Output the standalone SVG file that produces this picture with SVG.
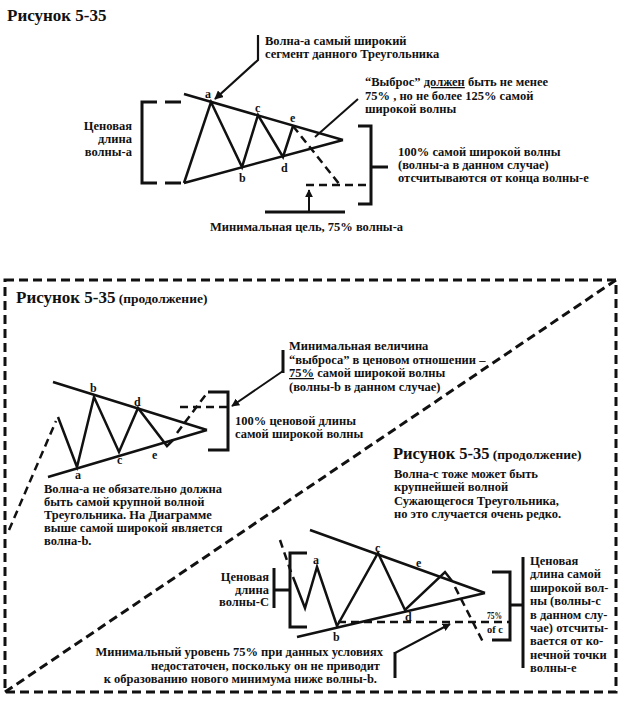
<svg xmlns="http://www.w3.org/2000/svg" width="625" height="704" viewBox="0 0 625 704">
<defs>
<marker id="ah" viewBox="0 0 10 10" refX="9" refY="5" markerWidth="4" markerHeight="4" orient="auto"><path d="M0,0 L10,5 L0,10 z" fill="#111"/></marker>
</defs>
<style>
text{font-family:"Liberation Serif","Times New Roman",serif;font-weight:bold;font-size:12.5px;fill:#111}
.t{font-size:17px}
.st{font-size:13.5px}
.t3{font-size:16.5px}
.lbl{font-size:12px}
.sm{font-size:10px}
.ln{stroke:#111;stroke-width:2.5;fill:none;stroke-linejoin:miter}
.br{stroke:#111;stroke-width:3;fill:none}
.ds{stroke:#111;stroke-width:2.5;fill:none;stroke-dasharray:8 5}
.bd{stroke:#111;stroke-width:3;fill:none;stroke-dasharray:9 5}
.ar{stroke:#111;stroke-width:2;fill:none;marker-end:url(#ah)}
.u{text-decoration:underline}
</style>
<rect width="625" height="704" fill="#fff"/>

<!-- ===== Figure 1 ===== -->
<g id="fig1-title"><text class="t" x="7" y="21">Рисунок 5-35</text></g>

<g id="fig1-triangle">
<path class="ln" d="M184,94 L343,140 M184,183 L343,140"/>
<path class="ln" d="M184,183 L211,102 L242,167 L258,115 L283,157 L293,126"/>
<path class="ds" d="M293,126 L340,185"/>
<text class="lbl" x="205" y="98">a</text>
<text class="lbl" x="239" y="182">b</text>
<text class="lbl" x="255" y="112">c</text>
<text class="lbl" x="281" y="172">d</text>
<text class="lbl" x="290" y="122">e</text>
</g>

<g id="fig1-note-a">
<text x="265" y="45">Волна-а самый широкий</text>
<text x="265" y="58">сегмент данного Треугольника</text>
</g>

<g id="fig1-note-throw">
<text x="365" y="86">“Выброс” <tspan class="u">должен</tspan> быть не менее</text>
<text x="365" y="99.5">75% , но не более 125% самой</text>
<text x="365" y="113">широкой волны</text>
</g>

<g id="fig1-price-len">
<text x="132" y="129.5" text-anchor="end">Ценовая</text>
<text x="132" y="143" text-anchor="end">длина</text>
<text x="132" y="156" text-anchor="end">волны-а</text>
</g>

<g id="fig1-note-100">
<text x="398" y="156">100% самой широкой волны</text>
<text x="398" y="169">(волны-а в данном случае)</text>
<text x="398" y="182">отсчитываются от конца волны-е</text>
</g>

<g id="fig1-note-min">
<text x="210" y="231">Минимальная цель, 75% волны-а</text>
</g>

<g id="fig1-connectors">
<path class="br" d="M157,102 H142 V183 H157"/>
<path class="br" d="M165,102 H181 M165,183 H181"/>
<path class="br" d="M358,126 H371 V204 H358 M371,167 H388"/>
<path class="ds" d="M306,185 H369"/>
<path class="br" d="M265,212 H345"/>
<path class="ar" d="M309,212 V190"/>
<path class="ar" d="M258,35 V60 L215,99" style="stroke-width:2.2"/>
<path class="ln" d="M358,99 L315,137" style="stroke-width:2"/>
</g>

<!-- ===== Frame ===== -->
<g id="frame">
<rect class="bd" x="5" y="280" width="611" height="412"/>
<path class="bd" d="M5,692 L616,280"/>
</g>

<!-- ===== Figure 2 ===== -->
<g id="fig2-title"><text x="16" y="303"><tspan class="t">Рисунок 5-35</tspan> <tspan class="st">(продолжение)</tspan></text></g>

<g id="fig2-triangle">
<path class="ln" d="M53,382 L207,430 M48,477 L207,430"/>
<path class="ds" d="M9,530 L56,421"/>
<path class="ln" d="M58,417 L77,467 L94,397 L119,452 L138,408 L167,446 L173,440"/>
<path class="ds" d="M177,433 L207,393"/>
<text class="lbl" x="90" y="392">b</text>
<text class="lbl" x="134" y="406">d</text>
<text class="lbl" x="75" y="479">a</text>
<text class="lbl" x="117" y="464">c</text>
<text class="lbl" x="152" y="459">e</text>
</g>

<g id="fig2-note-min">
<text x="289" y="350">Минимальная величина</text>
<text x="289" y="363.5">“выброса” в ценовом отношении –</text>
<text x="289" y="377"><tspan class="u">75%</tspan> самой широкой волны</text>
<text x="289" y="390.5">(волны-b в данном случае)</text>
</g>

<g id="fig2-note-100">
<text x="235" y="425">100% ценовой длины</text>
<text x="235" y="438">самой широкой волны</text>
</g>

<g id="fig2-note-a">
<text x="44" y="492.5">Волна-а не обязательно должна</text>
<text x="44" y="505.5">быть самой крупной волной</text>
<text x="44" y="518.5">Треугольника. На Диаграмме</text>
<text x="44" y="531.5">выше самой широкой является</text>
<text x="44" y="545">волна-b.</text>
</g>

<g id="fig2-connectors">
<path class="br" d="M208,392 H228 V450 H208"/>
<path class="ds" d="M180,407 H228"/>
<path class="br" d="M283,350 V373"/>
<path class="ar" d="M283,371 L232,406"/>
</g>

<!-- ===== Figure 3 ===== -->
<g id="fig3-title"><text x="393" y="459"><tspan class="t3">Рисунок 5-35</tspan> <tspan class="st">(продолжение)</tspan></text></g>

<g id="fig3-note-c">
<text x="394" y="478">Волна-с тоже может быть</text>
<text x="394" y="491">крупнейшей волной</text>
<text x="394" y="504.5">Сужающегося Треугольника,</text>
<text x="394" y="517.5">но это случается очень редко.</text>
</g>

<g id="fig3-triangle">
<path class="ln" d="M310,530 L485,593 M297,637 L485,593"/>
<path class="ds" d="M280,540 L292,575"/>
<path class="ln" d="M293,577 L305,608 L317,567 L337,626 L378,553 L405,610 L445,572 L452,581"/>
<path class="ds" d="M455,587 L483,642"/>
<text class="lbl" x="313" y="564">a</text>
<text class="lbl" x="333" y="641">b</text>
<text class="lbl" x="375" y="552">c</text>
<text class="lbl" x="405" y="621">d</text>
<text class="lbl" x="416" y="567">e</text>
</g>

<g id="fig3-price-len">
<text x="269" y="580.5" text-anchor="end">Ценовая</text>
<text x="269" y="593.5" text-anchor="end">длина</text>
<text x="269" y="606" text-anchor="end">волны-С</text>
</g>

<g id="fig3-pct">
<text class="sm" x="487" y="619" textLength="15" lengthAdjust="spacingAndGlyphs">75%</text>
<text class="sm" x="487" y="633" textLength="16" lengthAdjust="spacingAndGlyphs">of c</text>
</g>

<g id="fig3-note-right">
<text x="530" y="565">Ценовая</text>
<text x="530" y="578.4">длина самой</text>
<text x="530" y="591.8">широкой вол-</text>
<text x="530" y="605.2">ны (волны-с</text>
<text x="530" y="618.6">в данном слу-</text>
<text x="530" y="632">чае) отсчиты-</text>
<text x="530" y="645.4">вается от ко-</text>
<text x="530" y="658.8">нечной точки</text>
<text x="530" y="672.2">волны-е</text>
</g>

<g id="fig3-note-bottom">
<text x="383" y="656" text-anchor="end">Минимальный уровень 75% при данных условиях</text>
<text x="380" y="669.5" text-anchor="end">недостаточен, поскольку он не приводит</text>
<text x="377" y="683" text-anchor="end">к образованию нового минимума ниже волны-b.</text>
</g>

<g id="fig3-connectors">
<path class="br" d="M307,553 H290 V627 H307 M274,590 H290"/>
<path class="br" d="M274,568 V608"/>
<path class="ds" d="M338,622 H510"/>
<path class="br" d="M492,572 H510 V640 H492 M510,605 H523"/>
<path class="br" d="M523,557 V668"/>
<path class="br" d="M395,652 V678"/>
<path class="ar" d="M395,653 L450,624"/>
</g>
</svg>
